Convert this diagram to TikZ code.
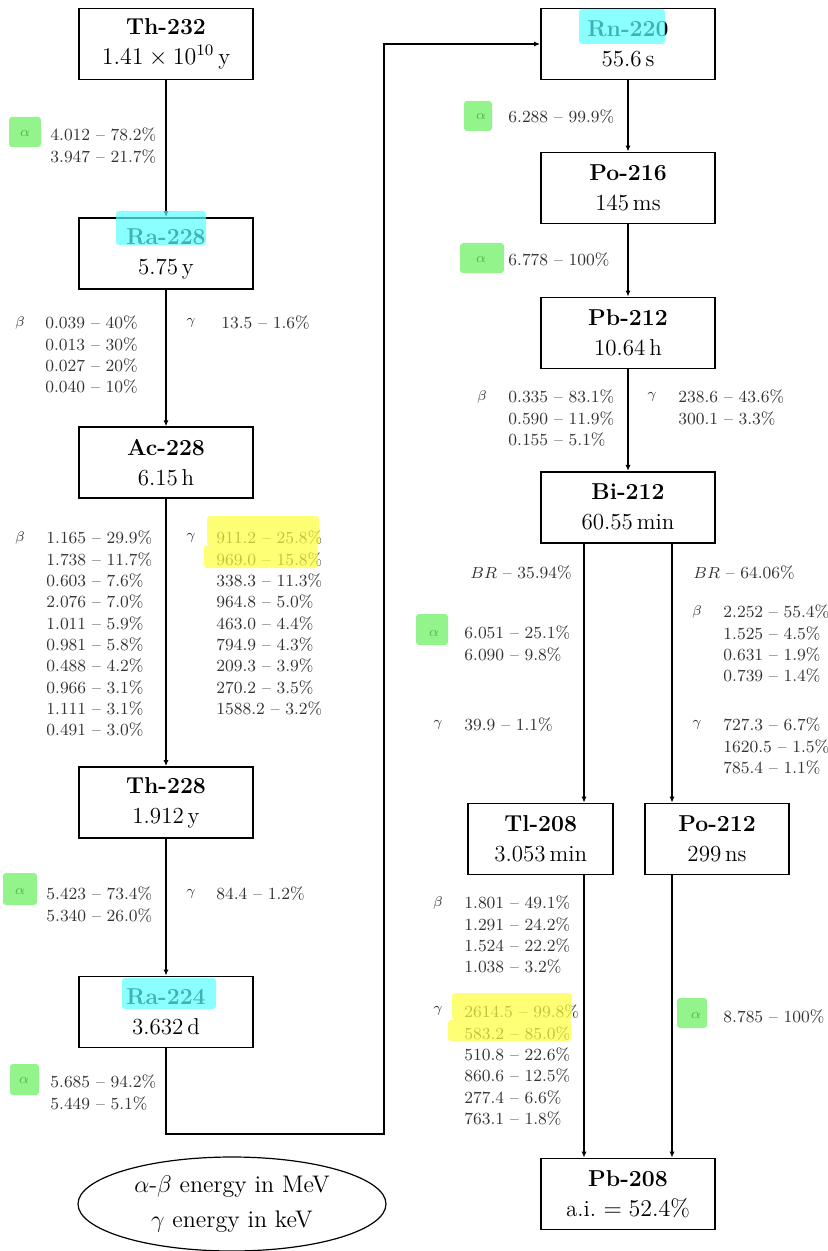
\documentclass[tikz,border=0pt]{standalone}
\usepackage{amsmath,amssymb}
\usepackage{xcolor}
\usepackage{tikz}
\usetikzlibrary{positioning,arrows.meta,calc,shapes.geometric}

\definecolor{hlcyan}{RGB}{90,255,255}
\definecolor{hlgreen}{RGB}{100,240,90}
\definecolor{hlyellow}{RGB}{255,255,60}

\begin{document}
\begin{tikzpicture}[
    x=0.5pt, y=-0.5pt,
    >={Latex[length=3pt,width=2.6pt]},
    nuclide/.style={draw, line width=0.9pt, align=center, inner sep=0pt,
                    font=\fontsize{11.5}{15}\selectfont,
                    minimum width=87pt, minimum height=35.5pt},
    values/.style={font=\fontsize{8.5}{10.65}\selectfont, text=black!80, align=left,
                   inner sep=0pt, anchor=north west, yshift=3.6pt},
    ray/.style={font=\fontsize{7.5}{9}\selectfont, text=black!80, inner sep=0pt},
    chain/.style={->, line width=0.75pt},
    marker/.style={fill opacity=0.7, rounded corners=1.5pt},
  ]
    \useasboundingbox (0,0) rectangle (827,1251);

    % left column
    \node[nuclide] (th232) at (166,44)    {\textbf{Th-232}\\$1.41\times10^{10}$\,y};
    \node[nuclide] (ra228) at (166,253.5) {\textbf{Ra-228}\\5.75\,y};
    \node[nuclide] (ac228) at (166,462.7) {\textbf{Ac-228}\\6.15\,h};
    \node[nuclide] (th228) at (166,802.5) {\textbf{Th-228}\\1.912\,y};
    \node[nuclide] (ra224) at (166,1012)  {\textbf{Ra-224}\\3.632\,d};

    % right column
    \node[nuclide] (rn220) at (628,44)    {\textbf{Rn-220}\\55.6\,s};
    \node[nuclide] (po216) at (628,188)   {\textbf{Po-216}\\145\,ms};
    \node[nuclide] (pb212) at (628,333)   {\textbf{Pb-212}\\10.64\,h};
    \node[nuclide] (bi212) at (628,507.3) {\textbf{Bi-212}\\60.55\,min};
    \node[nuclide, minimum width=72.5pt] (tl208) at (540.7,839) {\textbf{Tl-208}\\3.053\,min};
    \node[nuclide, minimum width=72pt]   (po212) at (717,839)   {\textbf{Po-212}\\299\,ns};
    \node[nuclide] (pb208) at (628,1194)  {\textbf{Pb-208}\\a.i.\ $=52.4\%$};

    % connectors
    \draw[chain] (th232) -- (ra228);
    \draw[chain] (ra228) -- (ac228);
    \draw[chain] (ac228) -- (th228);
    \draw[chain] (th228) -- (ra224);
    \coordinate (turn) at (384,1134);
    \draw[chain] (ra224) |- (turn) |- (rn220);
    \draw[chain] (rn220) -- (po216);
    \draw[chain] (po216) -- (pb212);
    \draw[chain] (pb212) -- (bi212);
    \coordinate (brL) at (584,0);
    \coordinate (brR) at (672,0);
    \draw[chain] (bi212.south -| brL) -- (tl208.north -| brL);
    \draw[chain] (bi212.south -| brR) -- (po212.north -| brR);
    \draw[chain] (tl208.south -| brL) -- (pb208.north -| brL);
    \draw[chain] (po212.south -| brR) -- (pb208.north -| brR);

    % Th-232 -> Ra-228
    \node[ray] (th232a) at (25,133) {$\alpha$};
    \node[values] (th232av) at (50,135) {4.012 -- 78.2\%\\3.947 -- 21.7\%};
    % Ra-228 -> Ac-228
    \node[ray] (ra228b) at (20,323) {$\beta$};
    \node[values] (ra228bv) at (45,323) {0.039 -- 40\%\\0.013 -- 30\%\\0.027 -- 20\%\\0.040 -- 10\%};
    \node[ray] (ra228g) at (191,323) {$\gamma$};
    \node[values] (ra228gv) at (221,323) {13.5 -- 1.6\%};
    % Ac-228 -> Th-228
    \node[ray] (ac228b) at (20,538) {$\beta$};
    \node[values] (ac228bv) at (46,538) {1.165 -- 29.9\%\\1.738 -- 11.7\%\\0.603 -- 7.6\%\\2.076 -- 7.0\%\\1.011 -- 5.9\%\\0.981 -- 5.8\%\\0.488 -- 4.2\%\\0.966 -- 3.1\%\\1.111 -- 3.1\%\\0.491 -- 3.0\%};
    \node[ray] (ac228g) at (191,538) {$\gamma$};
    \node[values] (ac228gv) at (216,538) {911.2 -- 25.8\%\\969.0 -- 15.8\%\\338.3 -- 11.3\%\\964.8 -- 5.0\%\\463.0 -- 4.4\%\\794.9 -- 4.3\%\\209.3 -- 3.9\%\\270.2 -- 3.5\%\\1588.2 -- 3.2\%};
    % Th-228 -> Ra-224
    \node[ray] (th228a) at (20,891) {$\alpha$};
    \node[values] (th228av) at (46,894) {5.423 -- 73.4\%\\5.340 -- 26.0\%};
    \node[ray] (th228g) at (191,894) {$\gamma$};
    \node[values] (th228gv) at (216,894) {84.4 -- 1.2\%};
    % Ra-224 -> Rn-220
    \node[ray] (ra224a) at (24,1080) {$\alpha$};
    \node[values] (ra224av) at (50,1082) {5.685 -- 94.2\%\\5.449 -- 5.1\%};
    % Rn-220 -> Po-216 -> Pb-212
    \node[ray] (rn220a) at (481,116) {$\alpha$};
    \node[values] (rn220av) at (508,117) {6.288 -- 99.9\%};
    \node[ray] (po216a) at (481,259) {$\alpha$};
    \node[values] (po216av) at (508,260) {6.778 -- 100\%};
    % Pb-212 -> Bi-212
    \node[ray] (pb212b) at (482,397) {$\beta$};
    \node[values] (pb212bv) at (508,397) {0.335 -- 83.1\%\\0.590 -- 11.9\%\\0.155 -- 5.1\%};
    \node[ray] (pb212g) at (652,397) {$\gamma$};
    \node[values] (pb212gv) at (678,397) {238.6 -- 43.6\%\\300.1 -- 3.3\%};
    % Bi-212 -> Tl-208
    \node[values] (bi212lbr) at (470,573) {$BR$ -- 35.94\%};
    \node[ray] (bi212a) at (434,633) {$\alpha$};
    \node[values] (bi212av) at (464,633) {6.051 -- 25.1\%\\6.090 -- 9.8\%};
    \node[ray] (bi212lg) at (438,725) {$\gamma$};
    \node[values] (bi212lgv) at (464,725) {39.9 -- 1.1\%};
    % Bi-212 -> Po-212
    \node[values] (bi212rbr) at (693,573) {$BR$ -- 64.06\%};
    \node[ray] (bi212b) at (697,612) {$\beta$};
    \node[values] (bi212bv) at (723,612) {2.252 -- 55.4\%\\1.525 -- 4.5\%\\0.631 -- 1.9\%\\0.739 -- 1.4\%};
    \node[ray] (bi212rg) at (697,725) {$\gamma$};
    \node[values] (bi212rgv) at (723,725) {727.3 -- 6.7\%\\1620.5 -- 1.5\%\\785.4 -- 1.1\%};
    % Tl-208 -> Pb-208
    \node[ray] (tl208b) at (438,903) {$\beta$};
    \node[values] (tl208bv) at (464,903) {1.801 -- 49.1\%\\1.291 -- 24.2\%\\1.524 -- 22.2\%\\1.038 -- 3.2\%};
    \node[ray] (tl208g) at (438,1011) {$\gamma$};
    \node[values] (tl208gv) at (464,1012) {2614.5 -- 99.8\%\\583.2 -- 85.0\%\\510.8 -- 22.6\%\\860.6 -- 12.5\%\\277.4 -- 6.6\%\\763.1 -- 1.8\%};
    % Po-212 -> Pb-208
    \node[ray] (po212a) at (696,1015) {$\alpha$};
    \node[values] (po212av) at (723,1017) {8.785 -- 100\%};

    % legend
    \node[ellipse, draw, line width=0.6pt, inner sep=0pt, minimum width=154pt, minimum height=47pt,
          align=center, font=\fontsize{12}{17.5}\selectfont] (units) at (232,1204)
      {$\alpha$-$\beta$ energy in MeV\\$\gamma$ energy in keV};

    % marker strokes over the print
    \fill[hlcyan, marker] (116,211) rectangle (206,245);
    \fill[hlcyan, marker] (579,9) rectangle (665,44);
    \fill[hlcyan, marker] (122,978) rectangle (216,1009);
    \fill[hlgreen, marker] (9,117) rectangle (41,147);
    \fill[hlgreen, marker] (3,873) rectangle (37,905);
    \fill[hlgreen, marker] (10,1064) rectangle (39,1095);
    \fill[hlgreen, marker] (464,101) rectangle (492,131);
    \fill[hlgreen, marker] (460,243) rectangle (504,273);
    \fill[hlgreen, marker] (416,614) rectangle (448,645);
    \fill[hlgreen, marker] (677,998) rectangle (707,1028);
    \fill[hlyellow, marker] (207,516) rectangle (319,545) (204,545) rectangle (318,568);
    \fill[hlyellow, marker] (452,993) rectangle (572,1020) (448,1020) rectangle (571,1041);
  \end{tikzpicture}
\end{document}
